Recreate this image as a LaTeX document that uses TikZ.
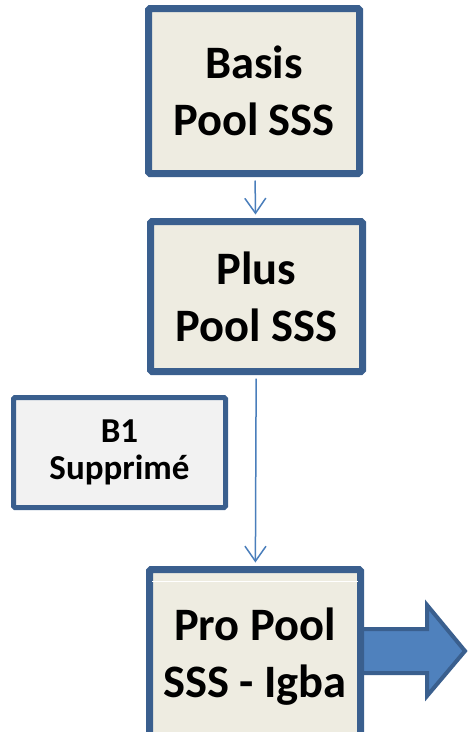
\documentclass[tikz,border=0pt]{standalone}
\usepackage{fontspec}
\setmainfont{Carlito}
\usetikzlibrary{arrows.meta}
\definecolor{boxline}{HTML}{3A5F8E}
\definecolor{boxfill}{HTML}{EEECE1}
\definecolor{grayfill}{HTML}{F2F2F2}
\definecolor{arrowblue}{HTML}{4F81BD}
\definecolor{linkblue}{HTML}{4A7EBB}
\begin{document}
\begin{tikzpicture}[x=1pt,y=-1pt,
  pool/.style={draw=boxline,fill=boxfill,line width=7pt,rounded corners=1.5pt,
    minimum width=211pt,inner sep=0pt,align=center,
    font=\fontsize{46.5}{57}\selectfont\bfseries},
  removed/.style={draw=boxline,fill=grayfill,line width=5pt,rounded corners=1.5pt,
    minimum width=212pt,minimum height=110pt,inner sep=0pt,align=center,
    font=\fontsize{35}{37}\selectfont\bfseries},
  link/.style={linkblue,line width=1.5pt,shorten <=3.5pt,shorten >=3.5pt,
    -{Straight Barb[length=15pt,width=21pt]}},
  bigarrow/.style={draw=boxline,fill=arrowblue,line width=4pt}]
  \useasboundingbox (0,0) rectangle (467,732);
  % block arrow leaving the last box
  \draw[bigarrow] (360,629) -- (427,629) -- (427,605) -- (465,651)
    -- (427,696) -- (427,673) -- (360,673) -- cycle;
  \node[pool,minimum height=165pt] (basis) at (254,91) {Basis\\Pool SSS};
  \node[pool,minimum width=212pt,minimum height=150pt] (plus) at (256.5,296.5) {Plus\\Pool SSS};
  \node[pool,minimum height=175pt] (pro) at (255,657) {Pro Pool\\SSS - Igba};
  \draw[white,line width=1pt] (152,581) -- (358,581);
  \node[removed] (b1) at (119.5,452.5) {B1\\Supprimé};
  \draw[link] (basis) -- (plus);
  \draw[link] (plus) -- (pro);
\end{tikzpicture}
\end{document}
